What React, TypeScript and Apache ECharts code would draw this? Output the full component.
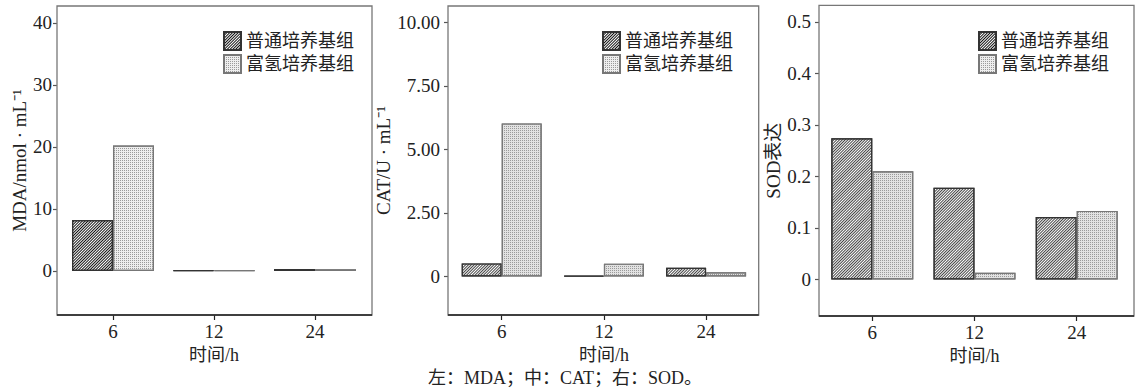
import React, { useEffect, useRef } from 'react';
import * as echarts from 'echarts';

const CATEGORIES = ['6', '12', '24'];
const SERIES_NAMES = ['普通培养基组', '富氢培养基组'];
const MDA_NORMAL = [8.2, 0.12, 0.3];
const MDA_H2 = [20.2, 0.1, 0.28];
const CAT_NORMAL = [0.51, 0.02, 0.34];
const CAT_H2 = [6.02, 0.5, 0.16];
const SOD_NORMAL = [0.274, 0.178, 0.121];
const SOD_H2 = [0.21, 0.013, 0.133];
const MDA_TICKS = [0, 10, 20, 30, 40];
const CAT_TICKS = [0, 2.5, 5, 7.5, 10];
const SOD_TICKS = [0, 0.1, 0.2, 0.3, 0.4, 0.5];
const Y_TITLES = ['MDA/nmol · mL⁻¹', 'CAT/U · mL⁻¹', 'SOD表达'];
const X_TITLE = '时间/h';
const CAPTION = '左：MDA；中：CAT；右：SOD。';

const FONT = "'Liberation Serif', 'Noto Sans CJK SC', serif";

const fmt0 = (v: number) => String(v);
const fmt2 = (v: number) => (v === 0 ? '0' : v.toFixed(2));
const fmt1 = (v: number) => (v === 0 ? '0' : v.toFixed(1));

const PANELS = [
  {
    frame: [57, 6, 372, 315], grid: [62.5, 365.5], min: -7.1, max: 42.7,
    ticks: MDA_TICKS, fmt: fmt0, nameGap: 27, labelMargin: 5, barWidth: 41,
    legendLeft: 223, hatch: '#111', dotBase: '#eeeeee', normal: MDA_NORMAL, h2: MDA_H2,
  },
  {
    frame: [448, 6, 758.7, 315], grid: [450.6, 757.2], min: -1.52, max: 10.64,
    ticks: CAT_TICKS, fmt: fmt2, nameGap: 49, labelMargin: 8, barWidth: 40,
    legendLeft: 602, hatch: '#444', dotBase: '#e2e2e2', normal: CAT_NORMAL, h2: CAT_H2,
  },
  {
    frame: [819, 5.3, 1134, 316], grid: [821.2, 1127.8], min: -0.071, max: 0.532,
    ticks: SOD_TICKS, fmt: fmt1, nameGap: 35, labelMargin: 8, barWidth: 41,
    legendLeft: 978, hatch: '#444', dotBase: '#e2e2e2', normal: SOD_NORMAL, h2: SOD_H2,
  },
];

export default function App() {
  const ref = useRef<HTMLDivElement>(null);
  useEffect(() => {
    if (!ref.current) return;
    const chart = echarts.init(ref.current, undefined, { renderer: 'svg' });
    const grids: any[] = [];
    const xAxes: any[] = [];
    const yAxes: any[] = [];
    const series: any[] = [];
    const legends: any[] = [];
    const graphics: any[] = [];
    PANELS.forEach((p, i) => {
      const [fl, ft, fr, fb] = p.frame;
      grids.push({ left: p.grid[0], width: p.grid[1] - p.grid[0], top: ft, height: fb - ft });
      xAxes.push({
        type: 'category', gridIndex: i, data: CATEGORIES, position: 'bottom',
        axisLine: { show: false, onZero: false },
        axisTick: { show: true, alignWithLabel: true, length: 5, lineStyle: { color: '#222', width: 1.2 } },
        axisLabel: { fontSize: 19, fontFamily: FONT, color: '#222', margin: 7 },
        name: X_TITLE, nameLocation: 'middle', nameGap: 30,
        nameTextStyle: { fontSize: 18, fontFamily: FONT, color: '#222' },
      });
      yAxes.push({
        type: 'value', gridIndex: i, min: p.min, max: p.max, offset: p.grid[0] - fl,
        axisLine: { show: false },
        splitLine: { show: false },
        axisTick: { show: true, length: 4, lineStyle: { color: '#555', width: 1.2 }, customValues: p.ticks },
        axisLabel: { customValues: p.ticks, formatter: p.fmt, margin: p.labelMargin, fontSize: 19, fontFamily: FONT, color: '#222' },
        name: Y_TITLES[i], nameLocation: 'middle', nameGap: p.nameGap,
        nameTextStyle: { fontSize: 19, fontFamily: FONT, color: '#222' },
      });
      series.push({
        type: 'bar', name: SERIES_NAMES[0], xAxisIndex: i, yAxisIndex: i, data: p.normal,
        barWidth: p.barWidth, barGap: '0%',
        itemStyle: {
          color: '#ffffff', borderColor: '#333', borderWidth: 1.2,
          decal: { symbol: 'rect', color: p.hatch, dashArrayX: [1, 0], dashArrayY: [1, 1], rotation: -Math.PI / 4 },
        },
      });
      series.push({
        type: 'bar', name: SERIES_NAMES[1], xAxisIndex: i, yAxisIndex: i, data: p.h2,
        barWidth: p.barWidth, barGap: '0%',
        itemStyle: {
          color: p.dotBase, borderColor: '#777', borderWidth: 1.2,
          decal: { symbol: 'rect', color: '#9a9a9a', dashArrayX: [1, 1], dashArrayY: [1, 1] },
        },
      });
      legends.push({
        orient: 'vertical', left: p.legendLeft, top: 31, itemWidth: 17, itemHeight: 18, itemGap: 3,
        padding: 0, icon: 'rect', selectedMode: false, data: SERIES_NAMES,
        textStyle: { fontSize: 18, fontFamily: FONT, color: '#222' },
      });
      graphics.push({
        type: 'rect', silent: true, z: 10,
        shape: { x: fl, y: ft, width: fr - fl, height: fb - ft },
        style: { fill: 'none', stroke: '#777', lineWidth: 1.3 },
      });
      graphics.push({
        type: 'line', silent: true, z: 11,
        shape: { x1: fl, y1: fb, x2: fr, y2: fb },
        style: { stroke: '#222', lineWidth: 1.5 },
      });
    });
    graphics.push({
      type: 'text', x: 565, y: 378,
      style: { text: CAPTION, fontSize: 18, fontFamily: FONT, fill: '#222', textAlign: 'center', textVerticalAlign: 'middle' },
    });
    chart.setOption({
      animation: false,
      backgroundColor: '#ffffff',
      grid: grids,
      xAxis: xAxes,
      yAxis: yAxes,
      series,
      legend: legends,
      graphic: graphics,
    });
    return () => chart.dispose();
  }, []);
  return (
    <div
      ref={ref}
      style={{ position: 'absolute', left: 0, top: 0, width: 1143, height: 390 }}
    />
  );
}
